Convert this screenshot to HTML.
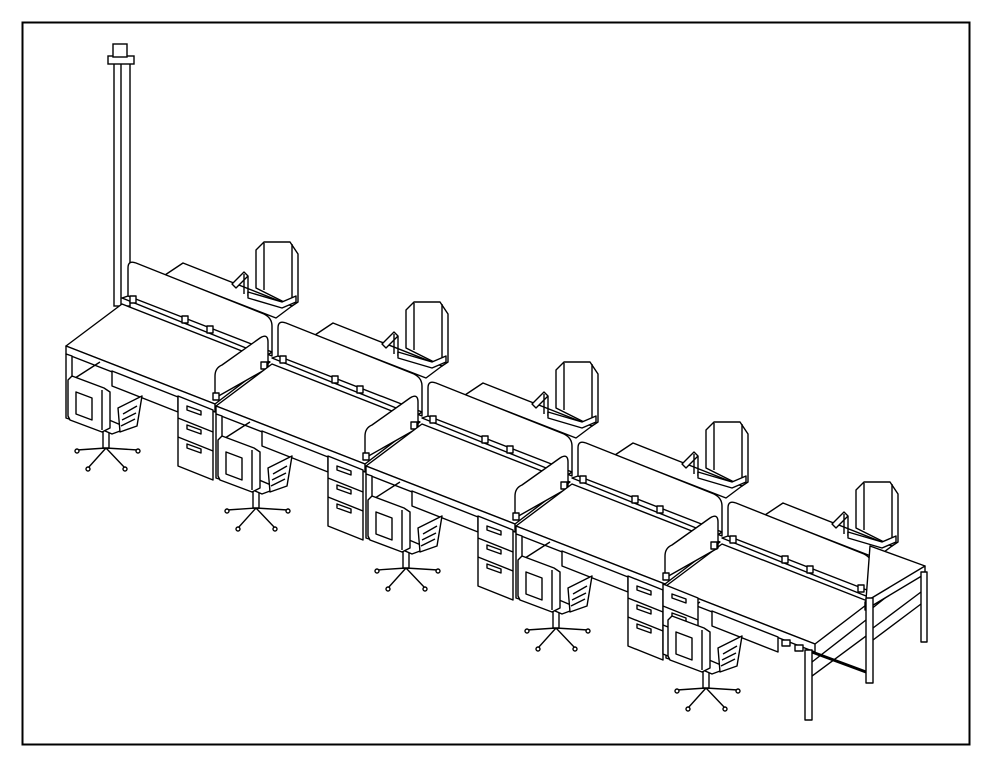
<!DOCTYPE html>
<html><head><meta charset="utf-8"><style>html,body{margin:0;padding:0;background:#fff}svg{display:block}</style></head>
<body>
<svg width="993" height="767" viewBox="0 0 993 767" xmlns="http://www.w3.org/2000/svg">
<rect x="0" y="0" width="993" height="767" fill="#fff"/>
<rect x="22.5" y="22.5" width="947" height="722" fill="none" stroke="#000" stroke-width="2"/>
<defs>
<g id="chair" fill="#fff" stroke="#000" stroke-width="1.4" stroke-linejoin="round">
  <line x1="106" y1="448" x2="77" y2="450"/><line x1="106" y1="448" x2="138" y2="450"/>
  <line x1="106" y1="448" x2="88" y2="468"/><line x1="106" y1="448" x2="125" y2="468"/>
  <line x1="106" y1="448" x2="104" y2="440"/>
  <circle cx="77" cy="451" r="2"/><circle cx="138" cy="451" r="2"/><circle cx="88" cy="469" r="2"/><circle cx="125" cy="469" r="2"/>
  <rect x="103" y="426" width="6" height="22"/>
  <polygon points="80,420 95,414 128,428 112,434"/>
  <polygon points="68,380 72,376 104,388 110,392 110,428 102,432 70,420 68,416"/>
  <line x1="102" y1="390" x2="102" y2="430"/>
  <polygon points="76,392 92,398 92,420 76,414"/>
  <polygon points="118,408 142,396 137,426 120,432"/>
  <line x1="123" y1="414" x2="137" y2="406"/><line x1="122" y1="420" x2="136" y2="413"/><line x1="121" y1="426" x2="135" y2="419"/>
</g>
<g id="bchair" fill="#fff" stroke="#000" stroke-width="1.4" stroke-linejoin="round">
  <polygon points="232,284 244,272 248,276 236,288"/>
  <line x1="244" y1="274" x2="244" y2="294"/><line x1="248" y1="276" x2="248" y2="296"/>
  <polygon points="256,250 264,242 290,242 298,254 298,302 292,306 256,288"/>
  <line x1="264" y1="243" x2="264" y2="290"/>
  <line x1="292" y1="244" x2="292" y2="304"/>
  <polygon points="248,292 282,302 296,296 296,302 282,308 248,298"/>
</g>
<g id="unit" fill="#fff" stroke="#000" stroke-width="1.4" stroke-linejoin="round">
  <polygon points="165,275 183,263 292,306 276,318"/>
  <use href="#bchair"/>
  <path d="M128,300 L128,268 Q128,260 136,263 L264,314 Q272,318 272,326 L272,356 L128,300 Z"/>
  <polygon points="122,298 128,296 272,352 266,356"/>
  <rect x="130" y="296" width="6" height="7"/><rect x="182" y="316" width="6" height="7"/><rect x="207" y="326" width="6" height="7"/><rect x="258" y="345" width="6" height="7"/>
  <polygon points="66,346 122,304 270,362 215,404"/>
  <polygon points="66,346 215,404 215,412 66,354"/>
  <polygon points="66,354 72,356 72,420 66,418"/>
  <line x1="72" y1="380" x2="100" y2="362"/>
  <polygon points="112,371 178,397 178,412 112,386"/>
</g>
<g id="ped" fill="#fff" stroke="#000" stroke-width="1.4" stroke-linejoin="round">
  <polygon points="178,396 213,410 213,480 178,466"/>
  <line x1="178" y1="418" x2="213" y2="432"/><line x1="178" y1="437" x2="213" y2="451"/>
  <polygon points="187,406 201,411 201,415 187,410"/>
  <polygon points="187,425 201,430 201,434 187,429"/>
  <polygon points="187,444 201,449 201,453 187,448"/>
</g>
<g id="div" fill="#fff" stroke="#000" stroke-width="1.4" stroke-linejoin="round">
  <path d="M215,398 L215,376 Q215,368 222,365 L260,338 Q268,333 268,342 L268,368 Z"/>
  <rect x="213" y="393" width="6" height="7"/><rect x="261" y="362" width="6" height="7"/>
</g>
</defs>
<g fill="#fff" stroke="#000" stroke-width="1.4">
  <rect x="114" y="62" width="16" height="244"/>
  <line x1="121" y1="62" x2="121" y2="306"/>
  <rect x="108" y="56" width="26" height="8"/>
  <rect x="113" y="44" width="14" height="13"/>
</g>
<use href="#unit"/><use href="#ped"/><use href="#chair"/><use href="#div"/>
<use href="#unit" x="150" y="60"/><use href="#ped" x="150" y="60"/><use href="#chair" x="150" y="60"/><use href="#div" x="150" y="60"/>
<use href="#unit" x="300" y="120"/><use href="#ped" x="300" y="120"/><use href="#chair" x="300" y="120"/><use href="#div" x="300" y="120"/>
<use href="#unit" x="450" y="180"/><use href="#ped" x="450" y="180"/><use href="#chair" x="450" y="180"/>
<use href="#unit" x="600" y="240"/><use href="#div" x="450" y="180"/><use href="#ped" x="485" y="188"/><use href="#chair" x="600" y="240"/>
<g fill="#fff" stroke="#000" stroke-width="1.4" stroke-linejoin="round">
  <polygon points="870,546 925,566 870,610 866,600"/>
  <polygon points="865,602 925,566 925,574 865,610"/>
  <rect x="921" y="572" width="6" height="70"/>
  <rect x="866" y="598" width="7" height="85"/>
  <rect x="805" y="650" width="7" height="70"/>
  <line x1="812" y1="662" x2="866" y2="620"/><line x1="812" y1="676" x2="866" y2="636"/>
  <line x1="873" y1="628" x2="921" y2="592"/><line x1="873" y1="640" x2="921" y2="604"/>
  <line x1="812" y1="652" x2="866" y2="672" stroke-width="3"/>
  <rect x="782" y="640" width="8" height="6"/><rect x="795" y="645" width="8" height="6"/>
</g>
</svg>
</body></html>
